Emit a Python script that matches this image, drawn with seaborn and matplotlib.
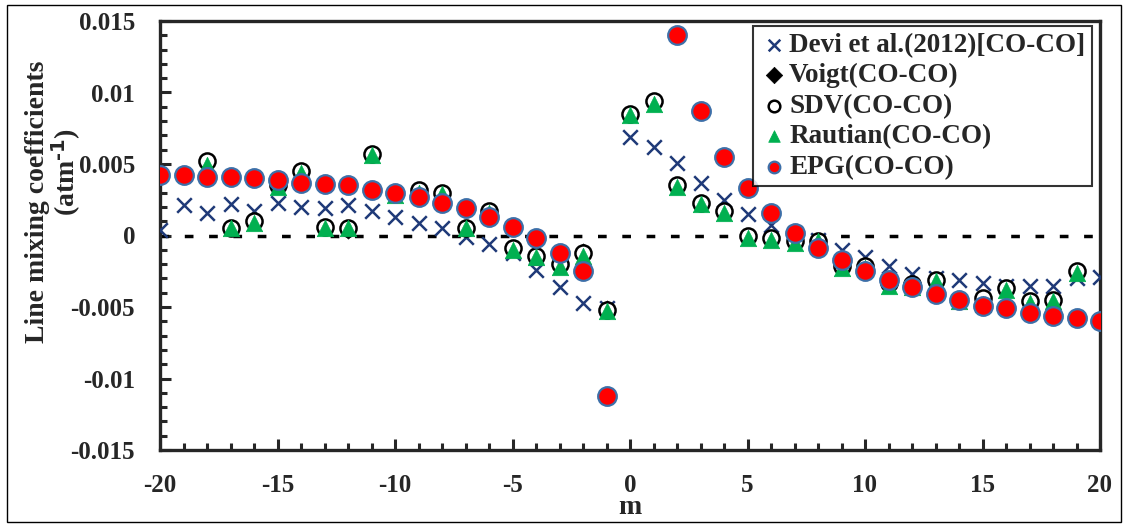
import numpy as np
import pandas as pd
import seaborn as sns
import matplotlib
matplotlib.use("Agg")
import matplotlib.pyplot as plt
from matplotlib.ticker import MultipleLocator, FixedLocator, FixedFormatter
from matplotlib.patches import Rectangle

nan = np.nan

# rotational quantum number m
m = list(range(-20, 21))

devi = [0.0004, 0.0021, 0.0016, 0.0022, 0.0017, 0.0023, 0.0020, 0.0019, 0.0021, 0.0017,
        0.0013, 0.0009, 0.0005, -0.0001, -0.0006, -0.0012, -0.0024, -0.0036, -0.0047, -0.0051,
        0.0069, 0.0062, 0.0051, 0.0037, 0.0025, 0.0015, 0.0007, 0.0002, -0.0003, -0.0010,
        -0.0015, -0.0021, -0.0027, -0.0030, -0.0031, -0.0033, -0.0035, -0.0035, -0.0035, -0.0030,
        -0.0029]

voigt = [nan, nan, 0.0052, 0.0005, 0.0010, 0.0035, 0.0045, 0.0006, 0.0003, 0.0057,
         0.0030, 0.0032, 0.0030, 0.0005, 0.0017, -0.0009, -0.0014, -0.0020, -0.0011, -0.0051,
         0.0085, 0.0094, 0.0035, 0.0023, 0.0017, 0.0000, -0.0002, -0.0004, -0.0004, -0.0021,
         -0.0021, -0.0033, -0.0034, -0.0031, -0.0045, -0.0044, -0.0037, -0.0046, -0.0045, -0.0025,
         nan]

sdv = [nan, nan, 0.0052, 0.0005, 0.0010, 0.0035, 0.0045, 0.0006, 0.0005, 0.0057,
       0.0030, 0.0032, 0.0030, 0.0005, 0.0017, -0.0009, -0.0014, -0.0020, -0.0012, -0.0052,
       0.0085, 0.0094, 0.0035, 0.0023, 0.0017, 0.0000, -0.0002, -0.0004, -0.0004, -0.0021,
       -0.0021, -0.0033, -0.0034, -0.0031, -0.0045, -0.0044, -0.0037, -0.0046, -0.0045, -0.0025,
       nan]

rautian = [nan, nan, 0.0049, 0.0005, 0.0009, 0.0034, 0.0044, 0.0005, 0.0005, 0.0056,
           0.0028, 0.0030, 0.0029, 0.0005, 0.0016, -0.0010, -0.0015, -0.0022, -0.0014, -0.0053,
           0.0084, 0.0092, 0.0034, 0.0022, 0.0016, -0.0002, -0.0003, -0.0005, -0.0004, -0.0023,
           -0.0023, -0.0035, -0.0036, -0.0032, -0.0046, -0.0048, -0.0038, -0.0047, -0.0046, -0.0026,
           nan]

epg = [0.0042, 0.0042, 0.0041, 0.0041, 0.0040, 0.0039, 0.0037, 0.0036, 0.0035, 0.0032,
       0.0030, 0.0027, 0.0023, 0.0019, 0.0013, 0.0006, -0.0002, -0.0012, -0.0025, -0.0112,
       nan, nan, 0.0140, 0.0087, 0.0055, 0.0033, 0.0016, 0.0002, -0.0009, -0.0017,
       -0.0025, -0.0031, -0.0036, -0.0041, -0.0045, -0.0049, -0.0051, -0.0054, -0.0056, -0.0058,
       -0.0060]

series = [
    ("Devi et al.(2012)[CO-CO]", devi),
    ("Voigt(CO-CO)", voigt),
    ("SDV(CO-CO)", sdv),
    ("Rautian(CO-CO)", rautian),
    ("EPG(CO-CO)", epg),
]

df = pd.concat(
    [pd.DataFrame({"m": m, "value": vals, "profile": name}) for name, vals in series],
    ignore_index=True,
).dropna()

sns.set_style("ticks")
plt.rcParams["font.family"] = ["Liberation Serif", "DejaVu Serif"]
plt.rcParams["font.weight"] = "bold"
plt.rcParams["axes.unicode_minus"] = False
plt.rcParams["mathtext.default"] = "regular"

W, H = 1128, 525
fig = plt.figure(figsize=(W / 100, H / 100), dpi=100)
ax = fig.add_axes([160 / W, 1 - 450 / H, 940 / W, 429 / H])

styles = {
    "Devi et al.(2012)[CO-CO]": dict(marker="x", s=110, color="#1f3a78", linewidth=1.8),
    "Voigt(CO-CO)": dict(marker="D", s=60, color="black", edgecolor="black", linewidth=0.5),
    "SDV(CO-CO)": dict(marker="o", s=135, facecolor="white", edgecolor="black", linewidth=1.8),
    "Rautian(CO-CO)": dict(marker="^", s=140, color="#00b050", edgecolor="#00b050", linewidth=0.5),
    "EPG(CO-CO)": dict(marker="o", s=180, color="#ff0000", edgecolor="#3d6fa8", linewidth=1.6),
}

for name, _ in series:
    sub = df[df["profile"] == name]
    sns.scatterplot(data=sub, x="m", y="value", ax=ax, label=name, zorder=3, **styles[name])

ax.axhline(0, color="black", linestyle=(0, (2.5, 4.5)), linewidth=2.5, zorder=1)

ax.set_xlim(-20, 20)
ax.set_ylim(-0.015, 0.015)
ax.xaxis.set_major_locator(MultipleLocator(5))
ax.xaxis.set_minor_locator(MultipleLocator(1))
yt = [-0.015, -0.01, -0.005, 0, 0.005, 0.01, 0.015]
ax.yaxis.set_major_locator(FixedLocator(yt))
ax.yaxis.set_major_formatter(FixedFormatter(["-0.015", "-0.01", "-0.005", "0", "0.005", "0.01", "0.015"]))
ax.yaxis.set_minor_locator(MultipleLocator(0.001))
ax.tick_params(axis="both", which="major", direction="in", length=8, width=2.2, labelsize=18)
ax.tick_params(axis="y", which="major", pad=18)
ax.tick_params(axis="x", which="major", pad=17)
ax.tick_params(axis="both", which="minor", direction="in", length=5, width=2.2)
ax.tick_params(axis="x", which="both", top=False)
ax.tick_params(axis="y", which="both", right=False)
for lab in ax.get_xticklabels() + ax.get_yticklabels():
    lab.set_fontweight("bold")
for sp in ax.spines.values():
    sp.set_linewidth(2.4)
    sp.set_visible(True)

ax.set_xlabel("m", fontsize=20, fontweight="bold", labelpad=-1)
ax.set_ylabel("")
fig.text(38 / W, 1 - 202 / H, "Line mixing coefficients", rotation=90, fontsize=20,
         fontweight="bold", ha="center", va="center")
fig.text(66 / W, 1 - 172 / H, r"(atm$^{\text{-1}}$)", rotation=90, fontsize=20,
         fontweight="bold", ha="center", va="center")

leg = ax.legend(loc="upper right", bbox_to_anchor=(1092 / W, 1 - 26 / H),
                bbox_transform=fig.transFigure, frameon=True, fancybox=False,
                edgecolor="black", prop={"family": "Liberation Serif", "weight": "bold", "size": 19.5},
                handletextpad=0.0, handlelength=1.1, labelspacing=0.2, borderpad=0.25,
                borderaxespad=0)
leg.get_frame().set_linewidth(1.5)
for h in leg.legend_handles:
    h.set_sizes([70])

fig.patches.append(Rectangle((7 / W, 3 / H), 1114 / W, 517 / H, transform=fig.transFigure,
                             fill=False, edgecolor="black", linewidth=1.0))

fig.savefig("out.png", dpi=100)
